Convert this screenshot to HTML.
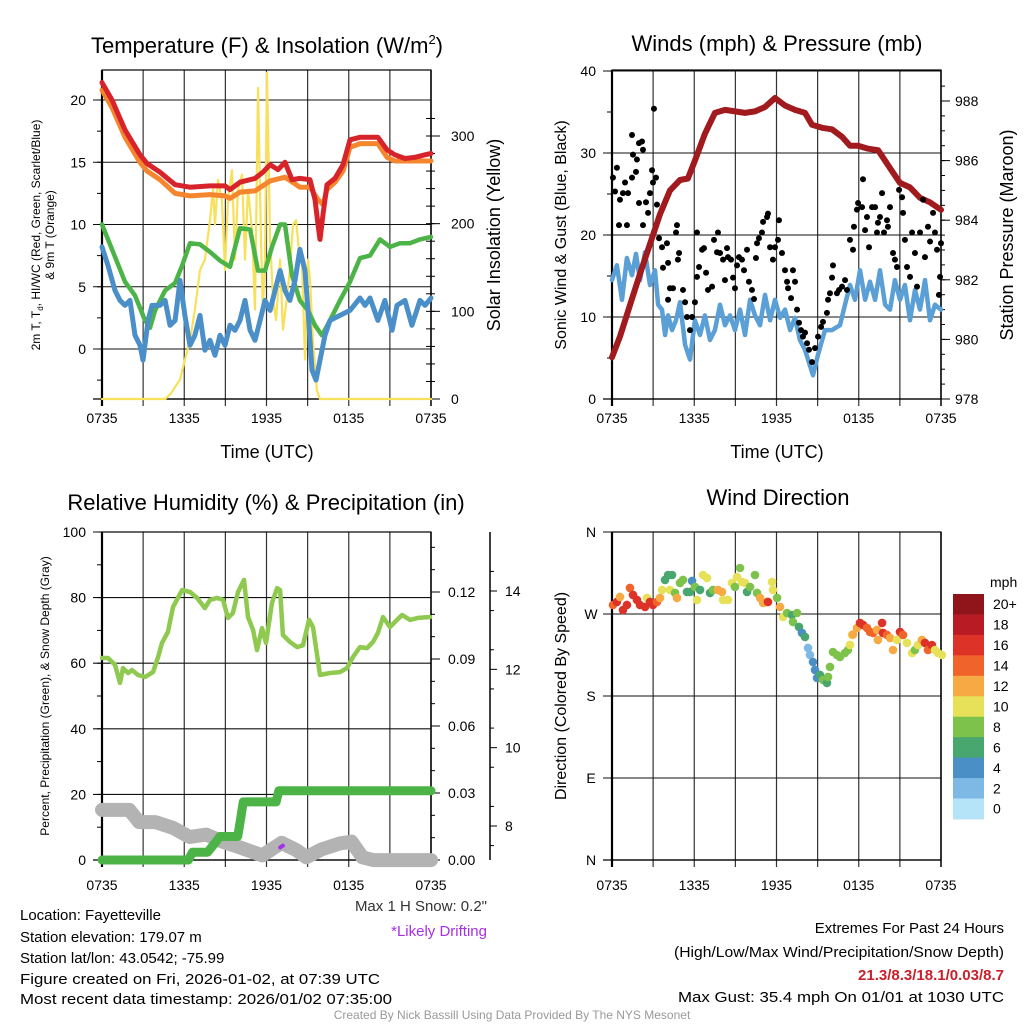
<!DOCTYPE html>
<html><head><meta charset="utf-8"><style>
html,body{margin:0;padding:0;background:#fff;}
svg{display:block;font-family:"Liberation Sans",sans-serif;}
</style></head><body>
<svg id="s" width="1024" height="1024" viewBox="0 0 1024 1024" xmlns="http://www.w3.org/2000/svg">
<rect width="1024" height="1024" fill="#fff"/>
<g id="layer"></g>
<text x="267" y="53" font-size="22" text-anchor="middle">Temperature (F) &amp; Insolation (W/m<tspan font-size="13" dy="-9">2</tspan><tspan dy="9">)</tspan></text>
<text x="777" y="51" font-size="22" text-anchor="middle">Winds (mph) &amp; Pressure (mb)</text>
<text x="266" y="510" font-size="22" text-anchor="middle">Relative Humidity (%) &amp; Precipitation (in)</text>
<text x="778" y="505" font-size="22" text-anchor="middle">Wind Direction</text>
<text x="267" y="458" font-size="18" text-anchor="middle">Time (UTC)</text>
<text x="777" y="458" font-size="18" text-anchor="middle">Time (UTC)</text>
<text transform="translate(40,235) rotate(-90)" font-size="12" text-anchor="middle"><tspan x="0" y="0">2m T, T<tspan font-size="8" dy="3">d</tspan><tspan dy="-3">, HI/WC (Red, Green, Scarlet/Blue)</tspan></tspan><tspan x="0" y="14">&amp; 9m T (Orange)</tspan></text>
<text transform="translate(500,235) rotate(-90)" font-size="18" text-anchor="middle">Solar Insolation (Yellow)</text>
<text transform="translate(566,235) rotate(-90)" font-size="16" text-anchor="middle">Sonic Wind &amp; Gust (Blue, Black)</text>
<text transform="translate(1013,235) rotate(-90)" font-size="18" text-anchor="middle">Station Pressure (Maroon)</text>
<text transform="translate(49,696) rotate(-90)" font-size="12" text-anchor="middle">Percent, Precipitation (Green), &amp; Snow Depth (Gray)</text>
<text transform="translate(566,696) rotate(-90)" font-size="16" text-anchor="middle">Direction (Colored By Speed)</text>
<text x="990" y="587" font-size="14">mph</text>
<g font-size="15">
<text x="20" y="920">Location: Fayetteville</text>
<text x="20" y="942">Station elevation: 179.07 m</text>
<text x="20" y="963">Station lat/lon: 43.0542; -75.99</text>
<text x="20" y="984" textLength="360" lengthAdjust="spacingAndGlyphs">Figure created on Fri, 2026-01-02, at 07:39 UTC</text>
<text x="20" y="1004" textLength="372" lengthAdjust="spacingAndGlyphs">Most recent data timestamp: 2026/01/02 07:35:00</text>
<text x="487" y="911" text-anchor="end" fill="#333">Max 1 H Snow: 0.2"</text>
<text x="487" y="936" text-anchor="end" fill="#a630e8">*Likely Drifting</text>
<text x="1004" y="933" text-anchor="end">Extremes For Past 24 Hours</text>
<text x="1004" y="957" text-anchor="end" textLength="330" lengthAdjust="spacingAndGlyphs">(High/Low/Max Wind/Precipitation/Snow Depth)</text>
<text x="1004" y="980" text-anchor="end" fill="#c8202a" font-weight="bold">21.3/8.3/18.1/0.03/8.7</text>
<text x="1004" y="1002" text-anchor="end" textLength="326" lengthAdjust="spacingAndGlyphs">Max Gust: 35.4 mph On 01/01 at 1030 UTC</text>
</g>
<text x="512" y="1019" font-size="12" text-anchor="middle" fill="#999">Created By Nick Bassill Using Data Provided By The NYS Mesonet</text>
</svg>
<script>
// ===== Data (hours since 0735 UTC) =====
const xTickLabels=["0735","1335","1935","0135","0735"];
const tempTicks=[0,5,10,15,20];
const solarTicks=[0,100,200,300];
const windTicks=[0,10,20,30,40];
const presTicks=[978,980,982,984,986,988];
const rhTicks=[0,20,40,60,80,100];
const precipTicks=[0,0.03,0.06,0.09,0.12];
const precipLabels=["0.00","0.03","0.06","0.09","0.12"];
const snowTicks=[8,10,12,14];
const dirTicks=[0,90,180,270,360];
const dirLabels=["N","E","S","W","N"];
const cbLabels=["20+","18","16","14","12","10","8","6","4","2","0"];

const redT_h=[0,.73,1.68,2.77,3.28,4.23,5.33,6.42,7.88,8.97,9.34,10.07,11.16,11.74,12.26,12.84,13.35,13.86,14.44,15.17,15.54,15.76,15.9,16.12,16.41,17,17.58,18.09,18.82,20.13,20.79,21.37,22.1,22.83,23.56,24];
const redT_v=[21.4,20,17.6,15.6,14.9,14.2,13.2,13,13.1,13.1,12.8,13.4,13.7,14.2,14.8,14.4,15,13.6,13.7,13.6,12,10,8.8,10.8,13.2,13.7,14.8,16.8,17,17,16,15.6,15.3,15.4,15.6,15.7];
const oraT_h=[0,.73,1.68,2.77,3.28,4.23,5.33,6.42,7.88,8.97,9.34,10.07,11.16,12.26,13.35,14.44,15.17,15.76,16.12,16.41,17,17.58,18.09,18.82,20.13,20.79,21.37,22.83,24];
const oraT_v=[20.8,19.4,17,15,14.3,13.6,12.5,12.3,12.4,12.3,12.1,12.6,12.7,13.5,13.8,13,13,12,11.6,12.8,13.4,14.3,16.2,16.5,16.5,15.4,15.1,15.1,15.1];
const dewT_h=[0,.58,1.17,1.68,2.41,3.14,3.5,3.87,4.6,5.33,5.84,6.42,7.15,7.88,8.61,9.34,10.07,10.8,11.38,11.89,12.4,12.99,13.35,13.86,14.44,15.03,15.54,16.05,16.63,17.36,18.09,18.82,19.55,20.28,21.01,21.74,22.47,23.2,24];
const dewT_v=[10,8.4,6.8,5.4,4.3,2.3,1.7,3.1,4.7,5.3,6.7,8.5,8.4,7.8,7.1,6.6,9.7,9.6,6.3,6.3,8.2,10,10,5.9,3.9,3.1,1.9,1.1,2.3,3.9,5.4,7.3,7.5,8.8,8.2,8.5,8.5,8.8,9];
const wcT_h=[0,.44,.95,1.31,1.68,2.04,2.41,2.77,2.99,3.36,3.65,4.23,4.6,4.96,5.33,5.69,6.05,6.42,6.78,7.15,7.51,7.88,8.24,8.61,8.97,9.34,9.7,10.07,10.43,10.8,11.16,11.53,11.89,12.26,12.62,12.99,13.35,13.71,14.08,14.44,14.81,15.03,15.32,15.61,15.9,16.27,16.63,17.36,18.09,18.82,19.19,19.55,20.13,20.64,21.16,21.52,22.1,22.61,23.2,23.56,24];
const wcT_v=[8.2,6.7,4.7,3.9,3.5,3.9,1.1,.3,-.9,2.3,3.5,3.5,3.9,1.9,2.3,5.5,2.7,.3,1.1,2.7,-.1,.7,-.5,1.1,.3,1.9,1.5,2.3,3.9,1.5,.7,2.3,3.9,3.1,4.7,6.3,4.7,3.9,5.5,8,6.3,3.1,-1.7,-2.5,-.9,1.1,2.3,2.7,3.1,4.1,3.5,4.1,2.3,3.9,1.5,3.5,3.9,1.9,3.9,3.5,4.1];
const solar_h=[0,4.6,4.96,5.69,6.05,6.42,6.78,7.15,7.51,7.88,8.1,8.24,8.46,8.75,8.97,9.19,9.48,9.7,9.92,10.21,10.43,10.65,10.94,11.16,11.38,11.6,11.74,11.89,12.04,12.26,12.48,12.7,12.99,13.2,13.42,13.71,13.93,14.15,14.37,14.59,14.81,15.03,15.17,15.39,15.68,15.9,24];
const solar_v=[0,0,5,22,45,67,102,147,159,204,239,199,250,227,147,227,261,159,239,256,159,239,193,102,355,182,102,159,372,182,113,90,159,79,107,147,199,204,170,153,45,159,136,67,10,0,0];

const pres_h=[0,.58,1.31,2.04,2.77,3.5,4.23,4.96,5.54,6.05,6.78,7.51,8.24,8.97,9.7,10.43,11.16,11.89,12.62,13.35,14.08,14.59,15.32,16.05,16.78,17.36,17.95,18.68,19.41,20.28,21.01,21.74,22.47,23.2,24];
const pres_v=[979.4,980.1,981.15,982.2,983.2,984.2,985,985.35,985.4,986,986.9,987.6,987.7,987.65,987.6,987.65,987.8,988.1,987.85,987.7,987.6,987.2,987.1,987.05,986.8,986.5,986.5,986.4,986.35,985.75,985.25,985.1,984.75,984.6,984.35];
const wind_h=[0,.36,.73,1.09,1.46,1.75,2.04,2.41,2.77,3.14,3.36,3.65,3.87,4.09,4.38,4.67,4.96,5.33,5.69,6.05,6.42,6.78,7.15,7.51,7.88,8.24,8.61,8.97,9.34,9.7,10.07,10.43,10.8,11.16,11.53,11.89,12.26,12.62,12.99,13.35,13.71,14.08,14.44,14.66,15.03,15.54,16.05,16.63,17,17.36,17.73,18.09,18.46,18.82,19.19,19.55,19.92,20.28,20.64,21.01,21.37,21.74,22.1,22.47,22.83,23.2,23.56,24];
const wind_v=[14.5,16.3,12.1,17.2,15.1,17.7,14.5,17.9,13.9,15.7,11.5,10.9,7.8,10.2,8.4,9.6,11.8,6.6,4.8,9.6,7.8,10.2,7.2,8.4,11.5,9,10.2,8.4,10.9,7.8,12.1,10.2,9,12.7,9.6,12.1,9.9,10.9,8.4,9.9,7.2,6,4.1,2.9,5.4,8.4,8.4,9,11.5,13.9,12.1,15.7,12.1,14.3,12.1,15.7,11.5,10.9,14.5,12.1,13.9,9.6,13.3,10.9,14.5,9.6,11.5,10.9];
const gust_h=[.07,.22,.36,.58,.8,.95,.51,1.09,1.17,1.46,1.46,1.53,1.75,1.82,1.97,2.19,2.26,1.97,2.26,2.48,2.63,2.77,2.92,2.99,3.06,3.21,3.28,3.43,3.65,3.72,4.01,4.09,4.23,4.09,4.45,4.67,4.74,4.81,4.89,5.18,5.33,5.47,5.69,5.84,6.05,6.2,6.2,6.35,6.57,6.71,6.86,7,7.3,7.44,7.66,7.73,7.88,8.1,8.24,8.39,8.46,8.68,8.83,8.97,9.12,9.26,9.48,9.63,9.85,9.99,10.21,10.36,10.5,10.58,10.72,10.94,11.02,11.31,11.38,11.53,11.74,11.89,12.18,12.11,12.4,12.62,12.77,12.84,13.06,13.2,13.35,13.5,13.64,13.79,13.93,14.08,14.23,14.37,14.59,14.81,15.03,15.25,15.39,15.68,15.76,15.9,16.05,16.12,16.41,16.56,16.78,17,17.14,17.36,17.58,17.65,17.87,17.95,18.24,18.31,18.46,18.6,18.75,18.97,19.19,19.33,19.4,19.55,19.7,19.84,20.06,20.13,20.28,20.5,20.64,20.79,20.94,21.16,21.23,21.37,21.52,21.74,21.89,22.1,22.25,22.47,22.69,22.83,23.05,23.2,23.42,23.56,23.71,23.93,23.85,24];
const gust_v=[27,25.3,28.2,24.3,25.1,26.4,21.2,21.2,25.1,27,32.2,29.8,27.7,29.2,31.2,31.4,30.4,23.9,21.2,24,22.7,25.1,27.9,26.4,35.4,27,23.7,19.6,18.5,16,19,16.6,13.5,12.1,13.5,20.3,21.2,17,17.8,13.3,11.8,10,8.4,10,11.8,20.3,14.9,16.1,18.2,18.4,15.4,13.3,13.7,19.4,17.9,20.3,17.8,17,14.5,18.4,17.3,17,14.8,13.5,16.3,17.3,17,15.7,18.2,14.3,13.3,12.2,17.2,19,19.6,20.3,21.6,22.2,22.6,18.5,17,18.5,21.8,19.4,17.8,15.7,14.3,13.5,12.3,15.7,14.3,10.9,9.3,8.4,7.6,8.1,6.8,6,4.5,6.2,7.6,8.8,9.4,10.5,12.1,12.9,14.8,16.3,12.9,13.3,13.7,14.5,13.3,19.4,18.2,21,23.1,23.9,23.4,26.8,20.6,22.2,18.5,23.4,23.4,20.3,21.5,22.2,25.1,20.3,21.8,21,23.4,17.8,17,16.1,25.5,24.6,22.7,19.4,16.1,14.9,20.3,17.8,13.7,20.3,24.3,17.3,21,19.2,22.7,20.3,18.2,14.9,12.7,19];

const rh_h=[0,.44,.95,1.31,1.53,1.9,2.19,2.63,3.14,3.72,4.09,4.38,4.81,5.18,5.84,6.42,6.93,7.51,7.88,8.39,8.83,9.19,9.55,9.92,10.36,10.65,11.02,11.31,11.67,11.96,12.4,12.77,12.99,13.2,13.71,14.23,14.66,15.1,15.39,15.9,16.63,17.36,17.87,18.31,18.82,19.33,19.77,20.13,20.5,21.01,21.52,21.89,22.47,23.05,23.93];
const rh_v=[61.6,61.6,59.5,54,58.5,57,57.9,56.4,55.8,57.3,61.9,66.2,69.5,77.1,82.3,81.7,79.9,76.8,79.3,79.9,79.3,73.8,75.3,81.7,85.4,74.1,70.1,64,70.7,66.2,78.4,82.9,82.3,68.6,66.5,64.9,65.5,73.2,71,56.4,57,57.3,58.5,61.9,64.9,64.6,66.5,69.2,74.1,71,73.2,74.7,73.2,73.8,74.1];
const precip_h=[0,6.3,6.6,7.7,8.3,8.6,9.9,10.1,10.3,12.7,12.9,24];
const precip_v=[0,0,.0035,.0035,.008,.0105,.0105,.018,.026,.026,.031,.031];
const snow_h=[0,2,2.7,3.9,5.2,6.4,7.6,8.8,10,11.7,13.1,14.2,14.9,16,17.3,18.2,19,19.8,24];
const snow_v=[8.41,8.41,8.1,8.1,7.95,7.72,7.78,7.6,7.46,7.25,7.57,7.38,7.2,7.4,7.55,7.6,7.2,7.13,7.13];
const drift_h=[13.0,13.2];
const drift_v=[7.45,7.5];

const dir_h=[.07,.36,.58,.8,1.09,1.31,1.53,1.82,2.04,2.41,2.55,2.77,2.99,3.28,3.5,3.65,3.87,4.09,4.38,4.23,4.6,4.74,4.96,5.18,5.47,5.69,5.84,6.05,6.2,6.42,6.64,6.93,7.15,7.37,7.73,8.02,8.1,8.46,8.75,8.97,9.12,9.34,9.48,9.7,9.85,10.07,10.43,10.58,10.8,11.02,11.31,11.38,11.67,11.74,12.04,12.26,12.48,12.77,13.13,13.2,13.5,13.64,13.86,14.08,14.3,14.44,14.66,14.81,14.96,15.17,15.39,15.68,15.76,15.9,16.12,16.41,16.63,16.99,17.21,17.36,17.51,17.58,17.87,18.09,18.31,18.6,18.82,19.04,19.33,19.4,19.7,19.77,20.06,20.28,20.5,20.79,21.01,21.23,21.52,21.89,22.1,22.32,22.61,22.83,23.05,23.34,23.56,23.78,24.07];
const dir_d=[279.9,283.2,288.7,274.4,279.9,298.6,290.9,285.4,279.9,277.7,287.6,283.2,279.9,283.2,287.6,296.4,307.4,312.8,312.8,296.4,293.1,287.6,304.1,307.4,294.2,294.2,306.3,299.7,285.4,296.4,312.8,309.6,293.1,296.4,296.4,294.2,285.4,285.4,304.1,299.7,310.6,320.5,305.2,304.1,294.2,299.7,312.8,293.1,287.6,282.1,283.2,283.2,305.2,296.4,287.6,277.7,266.7,271.1,268.9,261.2,271.1,255.8,249.2,244.8,232.7,225,217.3,208.6,199.8,203.1,197.6,194.3,200.9,211.9,228.3,225,222.8,227.2,230.5,236,247,247.6,254.7,260.2,258,254.7,250.3,249.2,252.5,241.5,260.2,249.2,247,243.7,230.5,241.5,250.3,247,238.2,227.2,230.5,235.9,241.5,238.2,230.5,235.9,230.5,227.2,225];
const dir_s=[15,17,13,17,17,15,17,17,17,17,11,17,17,15,13,11,7,7,7,11,9,13,9,9,7,7,5,9,11,7,11,11,7,9,13,13,11,11,11,9,11,9,11,11,7,9,9,9,13,13,13,17,11,11,9,13,11,9,7,9,9,7,5,7,3,3,5,5,5,7,9,7,9,9,9,9,9,9,9,11,11,13,13,17,17,15,15,15,13,13,17,17,15,13,13,11,17,15,11,11,9,11,12,17,15,17,11,11,11];

// ===== rendering =====
const NS="http://www.w3.org/2000/svg";
const L=document.getElementById('layer');
function mk(tag,attrs,parent){const e=document.createElementNS(NS,tag);for(const k in attrs)e.setAttribute(k,attrs[k]);(parent||L).appendChild(e);return e;}
const PW=329;
function xS(x0){return h=>x0+h/24*PW;}
function lin(v0,y0,v1,y1){return v=>y0+(v-v0)*(y1-y0)/(v1-v0);}
function pathD(hs,vs,xf,yf){let d='';for(let i=0;i<hs.length;i++){d+=(i?'L':'M')+xf(hs[i]).toFixed(1)+','+yf(vs[i]).toFixed(1);}return d;}
function line(name,hs,vs,xf,yf,color,w){const p=mk('path',{d:pathD(hs,vs,xf,yf),fill:'none',stroke:color,'stroke-width':w,'stroke-linejoin':'round','stroke-linecap':'round'});


return p;}
function txt(name,x,y,s,size,anchor,fill){const t=mk('text',{x:x,y:y,'font-size':size,'text-anchor':anchor||'middle',fill:fill||'#000'});t.textContent=s;


return t;}

function frame(px,py,ph,yf,ticks,minorStep,tmin,tmax,xlabelsY,labels){
  const xf=xS(px);
  const g=mk('g',{});
  
  
  for(let h=3;h<24;h+=3){mk('line',{x1:xf(h),x2:xf(h),y1:py,y2:py+ph+7,stroke:'#333','stroke-width':1.2},g);}
  ticks.forEach(v=>{const y=yf(v);mk('line',{x1:px-9,x2:px+PW,y1:y,y2:y,stroke:'#111','stroke-width':1.1},g);});
  for(let v=tmin;v<=tmax+1e-9;v+=minorStep){const y=yf(v);if(y<py-1||y>py+ph+1)continue;mk('line',{x1:px-5,x2:px,y1:y,y2:y,stroke:'#000','stroke-width':1},g);}
  mk('rect',{x:px,y:py,width:PW,height:ph,fill:'none',stroke:'#000','stroke-width':1.2},g);
  mk('line',{x1:px,x2:px,y1:py,y2:py+ph+7,stroke:'#000','stroke-width':2.2},g);
  mk('line',{x1:px+PW,x2:px+PW,y1:py,y2:py+ph+7,stroke:'#000','stroke-width':1.5},g);
  mk('line',{x1:px-9,x2:px+PW,y1:py+ph,y2:py+ph,stroke:'#000','stroke-width':1.3},g);
  xTickLabels.forEach((s,i)=>txt('x-tick-label',xf(i*6),xlabelsY,s,14));
  return xf;
}

// ---- Panel 1 ----
{const px=102,py=70,ph=329;
const yT=lin(0,349,20,100), yS=lin(0,399,300,136);
const xf=frame(px,py,ph,yT,tempTicks,2.5,-2.5,22.5,423);
tempTicks.forEach(v=>txt('temp-tick-label',px-16,yT(v)+5,String(v),14,'end'));
solarTicks.forEach(v=>{mk('line',{x1:px+PW,x2:px+PW+9,y1:yS(v),y2:yS(v),stroke:'#000'});txt('solar-tick-label',px+PW+20,yS(v)+5,String(v),14,'start');});
for(let v=20;v<330;v+=20){mk('line',{x1:px+PW-5,x2:px+PW+4,y1:yS(v),y2:yS(v),stroke:'#000'});}
line('insolation-line',solar_h,solar_v,xf,yS,'#f7e05a',2.2);
line('nine-m-temp-line',oraT_h,oraT_v,xf,yT,'#f5862e',5);
line('temp-line',redT_h,redT_v,xf,yT,'#d7242a',5);
line('dewpoint-line',dewT_h,dewT_v,xf,yT,'#4cb447',4.5);
line('windchill-line',wcT_h,wcT_v,xf,yT,'#4a8fc8',5);
}
// ---- Panel 2 ----
{const px=612,py=70,ph=329;
const yW=lin(0,399,40,71), yP=lin(978,399,988,101);
const xf=frame(px,py,ph,yW,windTicks,5,0,40,423);
windTicks.forEach(v=>txt('wind-tick-label',px-16,yW(v)+5,String(v),14,'end'));
presTicks.forEach(v=>{mk('line',{x1:px+PW,x2:px+PW+9,y1:yP(v),y2:yP(v),stroke:'#000'});txt('pressure-tick-label',px+PW+14,yP(v)+5,String(v),14,'start');});
for(let v=978.5;v<989;v+=0.5){mk('line',{x1:px+PW,x2:px+PW+4,y1:yP(v),y2:yP(v),stroke:'#000'});}
line('wind-speed-line',wind_h,wind_v,xf,yW,'#5a9fd6',4.5);
line('pressure-line',pres_h,pres_v,xf,yP,'#a01a1e',6);
const gg=mk('g',{fill:'#000'});


gust_h.forEach((h,i)=>{const c=mk('circle',{cx:xf(h),cy:yW(gust_v[i]),r:3},gg);

});
}
// ---- Panel 3 ----
{const px=102,py=532,ph=328;
const yR=lin(0,860,100,532), yPr=lin(0,860,0.03,793), ySn=lin(8,826,14,591);
const xf=frame(px,py,ph,yR,rhTicks,10,0,100,890);
rhTicks.forEach(v=>txt('rh-tick-label',px-16,yR(v)+5,String(v),14,'end'));
precipTicks.forEach((v,i)=>{mk('line',{x1:px+PW,x2:px+PW+9,y1:yPr(v),y2:yPr(v),stroke:'#000'});txt('precip-tick-label',px+PW+17,yPr(v)+5,precipLabels[i],14,'start');});
for(let v=0.01;v<0.146;v+=0.01){mk('line',{x1:px+PW,x2:px+PW+4,y1:yPr(v),y2:yPr(v),stroke:'#000'});}
mk('line',{x1:490,x2:490,y1:532,y2:860,stroke:'#000','stroke-width':1.5});
snowTicks.forEach(v=>{mk('line',{x1:490,x2:497,y1:ySn(v),y2:ySn(v),stroke:'#000'});txt('snow-tick-label',505,ySn(v)+5,String(v),14,'start');});
for(let v=7.5;v<15.2;v+=1){mk('line',{x1:490,x2:494,y1:ySn(v),y2:ySn(v),stroke:'#000'});}
line('snow-depth-line',snow_h,snow_v,xf,ySn,'#b3b3b3',14);
line('precip-line',precip_h,precip_v,xf,yPr,'#4cb447',9);
line('rh-line',rh_h,rh_v,xf,yR,'#8fc94f',4.5);
line('drift-marker',drift_h,drift_v,xf,ySn,'#a630e8',4);
}
// ---- Panel 4 ----
{const px=612,py=532,ph=328;
const yD=lin(0,860,360,532);
const xf=frame(px,py,ph,yD,dirTicks,1000,0,0,890);
dirTicks.forEach((v,i)=>txt('direction-tick-label',px-21,yD(v)+5,dirLabels[i],14,'middle'));
const cols=['#b5e3f8','#7db9e4','#4a8fc6','#48a66f','#7cc24b','#e6e158','#f7a944','#f0632b','#dd3227','#b91b24','#8f151b'];
function col(s){return cols[Math.min(10,Math.max(0,Math.floor(s/2)))];}
const dg=mk('g',{});


dir_h.forEach((h,i)=>{const c=mk('circle',{cx:xf(h),cy:yD(dir_d[i]),r:4.3,fill:col(dir_s[i])},dg);

});
// colorbar
const cb=mk('g',{});


const top=594,bh=20.45;
for(let i=0;i<11;i++){mk('rect',{x:953,y:top+i*bh,width:31,height:bh+0.5,fill:cols[10-i]},cb);}
cbLabels.forEach((s,i)=>txt('colorbar-label',993,top+(i+0.5)*bh+5+ (i===0?0:0),s,14,'start'));
}
</script>
</body></html>
